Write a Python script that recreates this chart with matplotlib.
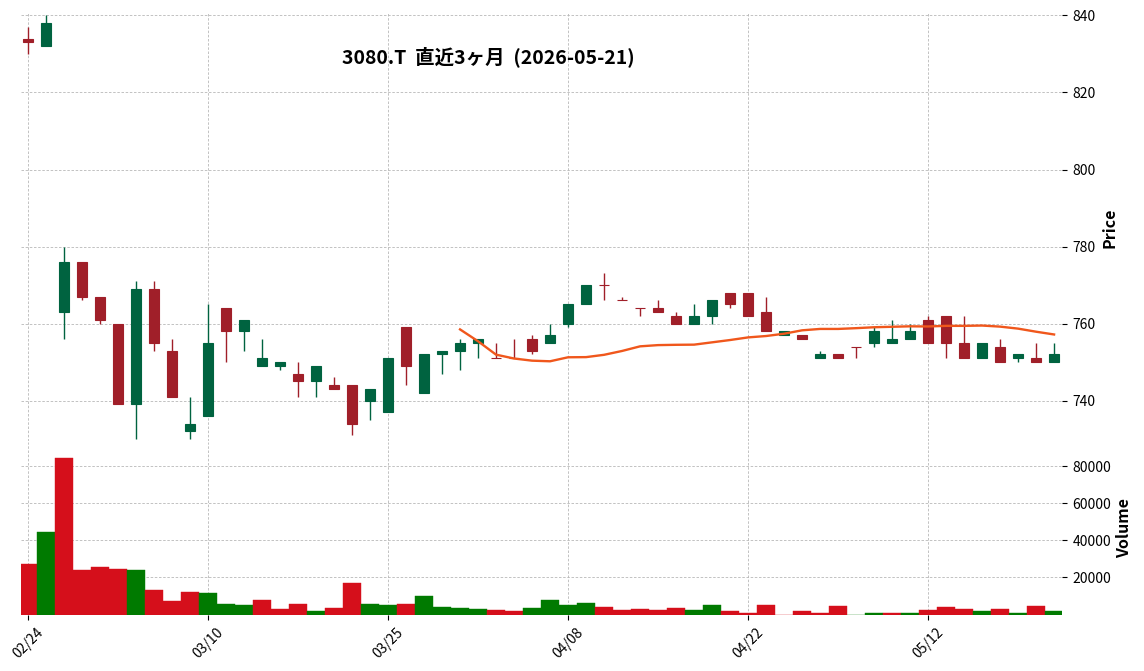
import matplotlib
matplotlib.use("Agg")
import matplotlib.pyplot as plt
import numpy as np
import pandas as pd

plt.rcParams['font.family'] = ['Noto Sans CJK JP', 'DejaVu Sans']

# ---- data ----
dates = ["02/24", "02/25", "02/26", "02/27", "03/02", "03/03", "03/04", "03/05", "03/06", "03/09",
         "03/10", "03/11", "03/12", "03/13", "03/16", "03/17", "03/18", "03/19", "03/23", "03/24",
         "03/25", "03/26", "03/27", "03/30", "03/31", "04/01", "04/02", "04/03", "04/06", "04/07",
         "04/08", "04/09", "04/10", "04/13", "04/14", "04/15", "04/16", "04/17", "04/20", "04/21",
         "04/22", "04/23", "04/24", "04/27", "04/28", "04/30", "05/01", "05/07", "05/08", "05/11",
         "05/12", "05/13", "05/14", "05/15", "05/18", "05/19", "05/20", "05/21"]
opens = [834, 832, 763, 776, 767, 760, 739, 769, 753, 732,
         736, 764, 758, 749, 749, 747, 745, 744, 744, 740,
         737, 759, 742, 752, 753, 755, 751, 751, 756, 755,
         760, 765, 770, 766, 764, 764, 762, 760, 762, 768,
         768, 763, 757, 757, 751, 752, 754, 755, 755, 756,
         761, 762, 755, 751, 754, 751, 751, 750]
highs = [837, 840, 780, 776, 767, 760, 771, 771, 756, 741,
         765, 764, 761, 756, 750, 750, 749, 746, 744, 743,
         751, 759, 752, 753, 756, 756, 755, 756, 757, 760,
         765, 770, 773, 767, 764, 766, 763, 765, 766, 768,
         768, 767, 758, 757, 753, 752, 754, 759, 761, 760,
         762, 762, 762, 755, 756, 752, 755, 755]
lows = [830, 832, 756, 766, 760, 739, 730, 753, 741, 730,
        736, 750, 753, 749, 748, 741, 741, 743, 731, 735,
        737, 744, 742, 747, 748, 751, 751, 751, 752, 755,
        759, 765, 766, 766, 762, 763, 760, 760, 760, 764,
        762, 758, 757, 756, 751, 751, 751, 754, 755, 756,
        755, 751, 751, 751, 750, 750, 750, 750]
closes = [833, 838, 776, 767, 761, 739, 769, 755, 741, 734,
          755, 758, 761, 751, 750, 745, 749, 743, 734, 743,
          751, 749, 752, 753, 755, 756, 751, 751, 753, 757,
          765, 770, 770, 766, 764, 763, 760, 762, 766, 765,
          762, 758, 758, 756, 752, 751, 754, 758, 756, 758,
          755, 755, 751, 755, 750, 752, 750, 752]
volumes = [27000, 44700, 84500, 23800, 25400, 24300, 23800, 13000, 7100, 11900,
           11400, 5500, 5000, 7600, 2800, 5500, 1700, 3300, 16800, 5500,
           5000, 5500, 9800, 3900, 3300, 2800, 2300, 1700, 3300, 7600,
           5000, 6000, 3900, 2300, 2800, 2300, 3300, 2300, 5000, 1700,
           900, 5000, 0, 1700, 900, 4400, 0, 900, 900, 900,
           2300, 3900, 2800, 1700, 2800, 900, 4400, 1700]
ma_window = 25
title = "3080.T  直近3ヶ月  (2026-05-21)"
price_ticks = [740, 760, 780, 800, 820, 840]
volume_ticks = [20000, 40000, 60000, 80000]
label_every = 10

# ---- styles ----
UP_C = '#006340'
DN_C = '#a01f29'
VUP_C = '#007a00'
VDN_C = '#d50f1b'
MA_C = '#f0571c'
GRID_C = '#b8b8b8'

o = np.array(opens, float); h = np.array(highs, float)
l = np.array(lows, float); c = np.array(closes, float)
v = np.array(volumes, float)
x = np.arange(len(dates))

ccolors = [UP_C if oo < cc else DN_C for oo, cc in zip(o, c)]
vcolors = [VUP_C if o[0] < c[0] else VDN_C] + \
          [VUP_C if c[i] > c[i - 1] else VDN_C for i in range(1, len(c))]

W, H = 1144, 671
fig = plt.figure(figsize=(W / 100, H / 100), dpi=100)
left = 21 / W
width = (1062 - 21) / W
axp = fig.add_axes([left, (H - 441) / H, width, (441 - 12) / H])
axv = fig.add_axes([left, (H - 614.5) / H, width, (614.5 - 442) / H], sharex=axp)

# candles
axp.vlines(x, l, h, colors=ccolors, linewidth=1.0, zorder=2)
axp.bar(x, np.abs(c - o), bottom=np.minimum(o, c), width=0.6, color=ccolors,
        edgecolor=ccolors, linewidth=0.8, zorder=3)

# moving average
ma = pd.Series(c).rolling(ma_window).mean()
axp.plot(x, ma, color=MA_C, linewidth=1.7, zorder=4)

# volume
axv.bar(x, v, width=1.0, color=vcolors, edgecolor=vcolors, linewidth=0.3, zorder=3)

axp.set_xlim(-0.39, len(x) - 1 + 0.44)
axp.set_ylim(729.5, 840.9)
axv.set_ylim(0.3 * v.min(), 1.1 * v.max())

tick_pos = list(range(0, len(x), label_every))
for ax in (axp, axv):
    for s in ax.spines.values():
        s.set_visible(False)
    ax.grid(True, linestyle=(0, (3, 2)), color=GRID_C, linewidth=0.6)
    ax.set_axisbelow(True)
    ax.yaxis.tick_right()
    ax.tick_params(axis='y', direction='out', length=3.5, width=0.8, labelsize=10, pad=4, colors='black')
    ax.set_xticks(tick_pos)

axp.set_yticks(price_ticks)
axv.set_yticks(volume_ticks)
axv.set_yticklabels([str(t) for t in volume_ticks])
axp.tick_params(axis='x', length=0, labelbottom=False)
axv.tick_params(axis='x', direction='out', length=3.5, width=0.8, labelsize=10, pad=4)
axv.set_xticklabels([dates[i] for i in tick_pos], rotation=45, ha='center')

fig.text(1109 / W, 1 - 228 / H, "Price", rotation=90, ha='center', va='center',
         fontsize=11.5, fontweight='bold')
fig.text(1124 / W, 1 - 528 / H, "Volume", rotation=90, ha='center', va='center',
         fontsize=11.5, fontweight='bold')
fig.text(488 / W, 1 - 57 / H, title, ha='center', va='center', fontsize=14, fontweight='bold')

fig.savefig("out.png", dpi=100)
